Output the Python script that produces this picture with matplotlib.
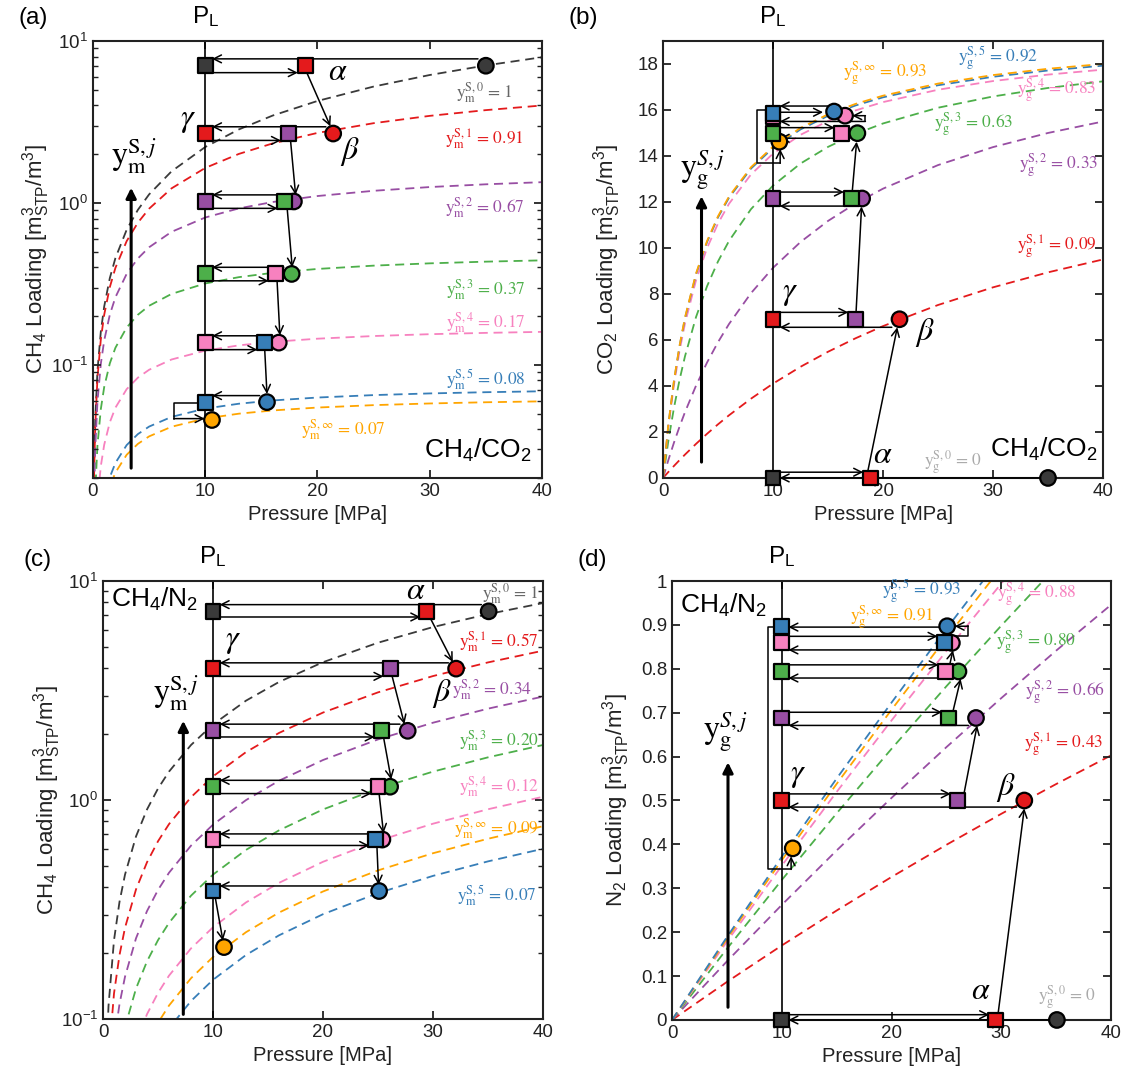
import matplotlib.pyplot as plt
from matplotlib.transforms import blended_transform_factory

plt.rcParams['font.family'] = ['Liberation Sans', 'DejaVu Sans']
plt.rcParams['mathtext.fontset'] = 'custom'
plt.rcParams['mathtext.rm'] = 'Liberation Sans'
plt.rcParams['mathtext.it'] = 'Liberation Sans:italic'
plt.rcParams['mathtext.bf'] = 'Liberation Sans:bold'
plt.rcParams['axes.linewidth'] = 1.5
plt.rcParams['axes.edgecolor'] = '#222222'

DK = '#3a3a3a'
RED = '#E41A1C'
PUR = '#984EA3'
GRN = '#4DAF4A'
PNK = '#F781BF'
BLU = '#377EB8'
ORG = '#FFA500'
GTX = '#666666'
LG = '#aaaaaa'

# ---------------- (a) CH4/CO2 : CH4 loading ----------------
a_P = [0.05, 0.1, 0.2, 0.4, 0.7, 1, 1.5, 2, 3, 4, 5, 7, 10, 13, 16, 20, 25, 30, 35, 40]
a_q0 = [0.0115, 0.0230, 0.0460, 0.0919, 0.1606, 0.2291, 0.3429, 0.4563, 0.6818, 0.9055, 1.128, 1.566, 2.212, 2.842, 3.459, 4.259, 5.227, 6.161, 7.061, 7.931]
a_q1 = [0.01046, 0.0209, 0.0416, 0.0828, 0.1438, 0.2037, 0.3016, 0.3969, 0.5802, 0.7545, 0.9204, 1.229, 1.643, 2.006, 2.328, 2.704, 3.105, 3.446, 3.739, 3.994]
a_q2 = [0.00766, 0.0153, 0.0303, 0.0595, 0.1015, 0.1414, 0.2037, 0.2613, 0.3642, 0.4535, 0.5317, 0.6624, 0.8119, 0.9243, 1.012, 1.102, 1.187, 1.252, 1.302, 1.342]
a_q3 = [0.00423, 0.00837, 0.01647, 0.0319, 0.0533, 0.0729, 0.1020, 0.1274, 0.1698, 0.2037, 0.2314, 0.2739, 0.3178, 0.3477, 0.3695, 0.3907, 0.4095, 0.4231, 0.4334, 0.4414]
a_q4 = [0.00194, 0.00383, 0.00749, 0.01438, 0.02372, 0.03205, 0.04411, 0.05432, 0.07069, 0.08323, 0.09314, 0.1078, 0.1223, 0.1318, 0.1385, 0.1449, 0.1505, 0.1545, 0.1574, 0.1597]
a_q5 = [0.00091, 0.0018, 0.00351, 0.00671, 0.01101, 0.0148, 0.02022, 0.02476, 0.03191, 0.03731, 0.04152, 0.04766, 0.05361, 0.05748, 0.06019, 0.06276, 0.06497, 0.06654, 0.0677, 0.0686]
a_qinf = [0.0008, 0.00157, 0.00307, 0.00586, 0.00962, 0.01292, 0.01764, 0.02159, 0.0278, 0.03247, 0.03612, 0.04142, 0.04656, 0.04989, 0.05222, 0.05443, 0.05633, 0.05768, 0.05868, 0.05945]

a_sq_p = [10, 18.9, 10, 17.4, 10, 17.1, 10, 16.3, 10, 15.3, 10]
a_sq_q = [7.03, 7.03, 2.68, 2.68, 1.02, 1.02, 0.364, 0.364, 0.137, 0.137, 0.0588]
a_sq_c = [DK, RED, RED, PUR, PUR, GRN, GRN, PNK, PNK, BLU, BLU]
a_ci_p = [35, 21.4, 17.9, 17.7, 16.55, 15.5, 10.6]
a_ci_q = [7.03, 2.68, 1.02, 0.364, 0.137, 0.0588, 0.0456]
a_ci_c = [DK, RED, PUR, GRN, PNK, BLU, ORG]
a_arrows = [(34.3, 7.75, 10.6, 7.75), (10.6, 6.37, 18.25, 6.37), (19.05, 6.37, 21.15, 2.97),
            (20.75, 2.95, 10.6, 2.95), (10.6, 2.43, 16.75, 2.43), (17.6, 2.43, 18.05, 1.12),
            (17.2, 1.12, 10.6, 1.12), (10.6, 0.925, 16.45, 0.925), (17.3, 0.925, 17.75, 0.40),
            (17.0, 0.40, 10.6, 0.40), (10.6, 0.33, 15.65, 0.33), (16.4, 0.33, 16.65, 0.152),
            (15.9, 0.151, 10.6, 0.151), (10.6, 0.124, 14.65, 0.124), (15.3, 0.124, 15.5, 0.066),
            (14.85, 0.0645, 10.6, 0.0645)]
a_polys = [([9.4, 7.2, 7.2, 9.95], [0.0582, 0.0582, 0.0465, 0.0465])]
a_labels = [(r'$\mathrm{y_m^{S,0}}$ = 1', 34.9, 4.8, GTX),
            (r'$\mathrm{y_m^{S,1}}$ = 0.91', 34.9, 2.5, RED),
            (r'$\mathrm{y_m^{S,2}}$ = 0.67', 34.9, 0.93, PUR),
            (r'$\mathrm{y_m^{S,3}}$ = 0.37', 35.0, 0.29, GRN),
            (r'$\mathrm{y_m^{S,4}}$ = 0.17', 35.0, 0.182, PNK),
            (r'$\mathrm{y_m^{S,5}}$ = 0.08', 35.0, 0.081, BLU),
            (r'$\mathrm{y_m^{S,\infty}}$ = 0.07', 22.3, 0.0395, ORG)]
a_greek = [(r'$\alpha$', 21.8, 6.4), (r'$\beta$', 22.9, 2.07), (r'$\gamma$', 8.5, 3.24)]

# ---------------- (b) CH4/CO2 : CO2 loading ----------------
b_P = [0, 0.5, 1, 1.5, 2, 3, 4, 5, 6, 8, 10, 12.5, 15, 17.5, 20, 25, 30, 35, 40]
b_q0 = [0] * 19
b_q1 = [0, 0.2662, 0.5243, 0.7744, 1.017, 1.481, 1.919, 2.332, 2.724, 3.447, 4.100, 4.833, 5.486, 6.072, 6.602, 7.519, 8.287, 8.939, 9.500]
b_q2 = [0, 0.8014, 1.5415, 2.2272, 2.8642, 4.0117, 5.0165, 5.9038, 6.693, 8.0356, 9.1352, 10.258, 11.174, 11.935, 12.577, 13.602, 14.384, 14.999, 15.497]
b_q3 = [0, 1.6601, 3.0606, 4.2579, 5.2933, 6.994, 8.3326, 9.4136, 10.305, 11.688, 12.712, 13.670, 14.393, 14.958, 15.412, 16.096, 16.586, 16.956, 17.243]
b_q4 = [0, 2.2702, 4.0653, 5.5205, 6.7238, 8.598, 9.9903, 11.065, 11.921, 13.196, 14.100, 14.919, 15.519, 15.979, 16.341, 16.878, 17.256, 17.536, 17.752]
b_q5 = [0, 2.3685, 4.2252, 5.7197, 6.9485, 8.85, 10.253, 11.331, 12.185, 13.452, 14.347, 15.153, 15.743, 16.194, 16.549, 17.073, 17.442, 17.715, 17.925]
b_qinf = [0, 2.3786, 4.2432, 5.7441, 6.9782, 8.8878, 10.297, 11.379, 12.237, 13.509, 14.408, 15.218, 15.811, 16.263, 16.620, 17.146, 17.516, 17.790, 18.001]

b_sq_p = [10, 18.85, 10, 17.5, 10, 17.1, 10, 16.24, 10, 10]
b_sq_q = [0, 0, 6.9, 6.9, 12.15, 12.15, 14.99, 14.96, 15.72, 15.86]
b_sq_c = [DK, RED, RED, PUR, PUR, GRN, GRN, PNK, PNK, BLU]
b_ci_p = [35, 21.5, 18.1, 17.67, 16.55, 15.55, 10.58]
b_ci_q = [0, 6.9, 12.15, 14.99, 15.75, 15.93, 14.62]
b_ci_c = [DK, RED, PUR, GRN, PNK, BLU, ORG]
b_arrows = [(10.6, 0.25, 18.2, 0.25), (34.3, 0.0, 10.6, 0.0), (18.6, 0.25, 21.3, 6.55),
            (10.6, 7.2, 16.85, 7.2), (20.8, 6.55, 10.6, 6.55), (17.55, 7.2, 18.05, 11.8),
            (10.6, 12.43, 16.45, 12.43), (17.4, 11.82, 10.6, 11.82), (17.2, 12.43, 17.6, 14.62),
            (10.6, 15.23, 15.6, 15.23), (17.0, 14.77, 10.6, 14.77), (10.6, 15.9, 14.55, 15.9),
            (18.4, 15.5, 10.6, 15.5), (15.0, 16.17, 10.6, 16.17)]
b_polys = [([18.4, 18.4, 17.2], [15.5, 15.75, 15.75]),
           ([9.4, 8.52, 8.52, 10.65, 10.65], [16.0, 16.0, 13.68, 13.68, 14.3])]
b_labels = [(r'$\mathrm{y_g^{S,0}}$ = 0', 26.4, 0.68, LG),
            (r'$\mathrm{y_g^{S,1}}$ = 0.09', 35.8, 10.07, RED),
            (r'$\mathrm{y_g^{S,2}}$ = 0.33', 36.0, 13.6, PUR),
            (r'$\mathrm{y_g^{S,3}}$ = 0.63', 28.2, 15.37, GRN),
            (r'$\mathrm{y_g^{S,4}}$ = 0.83', 35.8, 16.87, PNK),
            (r'$\mathrm{y_g^{S,5}}$ = 0.92', 30.5, 18.25, BLU),
            (r'$\mathrm{y_g^{S,\infty}}$ = 0.93', 20.2, 17.6, ORG)]
b_greek = [(r'$\alpha$', 20.0, 1.0), (r'$\beta$', 23.85, 6.33), (r'$\gamma$', 11.55, 8.06)]

# ---------------- (c) CH4/N2 : CH4 loading ----------------
c_P = [0.25, 0.5, 1, 1.5, 2, 3, 4, 5, 6, 8, 10, 13, 16, 20, 25, 30, 35, 40]
c_q0 = [0.0574, 0.1148, 0.2291, 0.3429, 0.4563, 0.6818, 0.9055, 1.128, 1.348, 1.783, 2.212, 2.842, 3.459, 4.259, 5.227, 6.161, 7.061, 7.931]
c_q1 = [0.0328, 0.0655, 0.1308, 0.196, 0.261, 0.3906, 0.5197, 0.6481, 0.776, 1.030, 1.282, 1.655, 2.024, 2.508, 3.101, 3.681, 4.249, 4.806]
c_q2 = [0.01955, 0.0391, 0.0781, 0.1171, 0.156, 0.2336, 0.3111, 0.3884, 0.4654, 0.6189, 0.7715, 0.999, 1.2245, 1.5226, 1.8907, 2.254, 2.6126, 2.9666]
c_q3 = [0.0115, 0.023, 0.04596, 0.06892, 0.09185, 0.1377, 0.1834, 0.2291, 0.2747, 0.3657, 0.4563, 0.5918, 0.7267, 0.9055, 1.1275, 1.3477, 1.5661, 1.7829]
c_q4 = [0.00659, 0.01318, 0.02635, 0.03951, 0.05267, 0.07896, 0.1052, 0.1315, 0.1577, 0.2101, 0.2623, 0.3406, 0.4185, 0.5222, 0.6511, 0.7795, 0.9073, 1.0345]
c_qinf = [0.00482, 0.00963, 0.01925, 0.02888, 0.03847, 0.05769, 0.07689, 0.09607, 0.1152, 0.1535, 0.1919, 0.2491, 0.3062, 0.3822, 0.477, 0.5714, 0.6654, 0.7591]
c_q5 = [0.00379, 0.00757, 0.01513, 0.0227, 0.03027, 0.04536, 0.06047, 0.07557, 0.09065, 0.1208, 0.151, 0.196, 0.241, 0.301, 0.3757, 0.4503, 0.5245, 0.5987]

c_sq_p = [10, 29.45, 10, 26.1, 10, 25.3, 10, 25.0, 10, 24.8, 10]
c_sq_q = [7.27, 7.27, 3.98, 3.98, 2.07, 2.07, 1.15, 1.15, 0.66, 0.66, 0.384]
c_sq_c = [DK, RED, RED, PUR, PUR, GRN, GRN, PNK, PNK, BLU, BLU]
c_ci_p = [35.06, 32.1, 27.7, 26.1, 25.4, 25.1, 11.0]
c_ci_q = [7.27, 3.98, 2.07, 1.15, 0.66, 0.384, 0.213]
c_ci_c = [DK, RED, PUR, GRN, PNK, BLU, ORG]
c_arrows = [(34.4, 7.8, 10.6, 7.8), (10.6, 6.85, 28.85, 6.85), (29.7, 6.85, 31.8, 4.27),
            (31.4, 4.23, 10.6, 4.23), (10.6, 3.67, 25.5, 3.67), (26.3, 3.65, 27.4, 2.22),
            (27.0, 2.22, 10.6, 2.22), (10.6, 1.94, 24.7, 1.94), (25.5, 1.94, 26.2, 1.24),
            (25.4, 1.23, 10.6, 1.23), (10.6, 1.07, 24.4, 1.07), (25.1, 1.07, 25.5, 0.705),
            (24.8, 0.70, 10.6, 0.70), (10.6, 0.62, 24.2, 0.62), (24.9, 0.62, 25.05, 0.41),
            (24.4, 0.405, 10.6, 0.405), (10.2, 0.36, 10.9, 0.228)]
c_polys = []
c_labels = [(r'$\mathrm{y_m^{S,0}}$ = 1', 37.0, 8.8, GTX),
            (r'$\mathrm{y_m^{S,1}}$ = 0.57', 36.0, 5.3, RED),
            (r'$\mathrm{y_m^{S,2}}$ = 0.34', 35.4, 3.2, PUR),
            (r'$\mathrm{y_m^{S,3}}$ = 0.20', 36.0, 1.86, GRN),
            (r'$\mathrm{y_m^{S,4}}$ = 0.12', 36.0, 1.15, PNK),
            (r'$\mathrm{y_m^{S,\infty}}$ = 0.09', 35.8, 0.74, ORG),
            (r'$\mathrm{y_m^{S,5}}$ = 0.07', 35.8, 0.367, BLU)]
c_greek = [(r'$\alpha$', 28.4, 9.0), (r'$\beta$', 30.8, 3.05), (r'$\gamma$', 11.85, 5.3)]

# ---------------- (d) CH4/N2 : N2 loading ----------------
d_P = [0, 5, 10, 15, 20, 25, 30, 35, 40]
d_q0 = [0] * 9
d_q1 = [0, 0.08667, 0.1697, 0.2493, 0.3257, 0.3990, 0.4696, 0.5374, 0.6027]
d_q2 = [0, 0.1335, 0.2621, 0.3862, 0.5059, 0.6215, 0.7332, 0.8413, 0.9457]
d_q3 = [0, 0.1621, 0.3189, 0.4707, 0.6177, 0.7602, 0.8983, 1.0322, 1.1622]
d_q4 = [0, 0.1785, 0.3515, 0.5194, 0.6823, 0.8405, 0.9942, 1.1435, 1.2886]
d_qinf = [0, 0.1846, 0.3638, 0.5378, 0.7067, 0.8709, 1.0304, 1.1856, 1.3365]
d_q5 = [0, 0.1888, 0.372, 0.55, 0.723, 0.8912, 1.0547, 1.2138, 1.3686]

d_sq_p = [10, 29.5, 10, 26.0, 10, 25.2, 10, 24.9, 10, 24.8, 10]
d_sq_q = [0, 0, 0.5, 0.5, 0.688, 0.688, 0.794, 0.794, 0.859, 0.859, 0.897]
d_sq_c = [DK, RED, RED, PUR, PUR, GRN, GRN, PNK, PNK, BLU, BLU]
d_ci_p = [35.07, 32.1, 27.7, 26.1, 25.5, 25.07, 11.0]
d_ci_q = [0, 0.5, 0.688, 0.794, 0.859, 0.897, 0.391]
d_ci_c = [DK, RED, PUR, GRN, PNK, BLU, ORG]
d_arrows = [(10.6, 0.012, 28.9, 0.012), (34.4, 0.0, 10.6, 0.0), (29.7, 0.012, 32.1, 0.482),
            (10.6, 0.515, 25.4, 0.515), (31.4, 0.485, 10.6, 0.485), (26.6, 0.515, 27.8, 0.671),
            (10.6, 0.701, 24.6, 0.701), (27.0, 0.671, 10.6, 0.671), (25.6, 0.703, 26.3, 0.777),
            (10.6, 0.809, 24.3, 0.809), (25.4, 0.779, 10.6, 0.779), (25.3, 0.809, 25.6, 0.842),
            (10.6, 0.874, 24.2, 0.874), (24.9, 0.843, 10.6, 0.843), (24.4, 0.895, 10.6, 0.895)]
d_polys = [([24.2, 27.0, 27.0, 25.75], [0.874, 0.874, 0.897, 0.897]),
           ([9.4, 8.7, 8.7, 10.85, 10.85], [0.895, 0.895, 0.343, 0.343, 0.373])]
d_labels = [(r'$\mathrm{y_g^{S,0}}$ = 0', 36.0, 0.052, LG),
            (r'$\mathrm{y_g^{S,1}}$ = 0.43', 35.7, 0.629, RED),
            (r'$\mathrm{y_g^{S,2}}$ = 0.66', 35.8, 0.748, PUR),
            (r'$\mathrm{y_g^{S,3}}$ = 0.80', 33.2, 0.861, GRN),
            (r'$\mathrm{y_g^{S,4}}$ = 0.88', 33.2, 0.97, PNK),
            (r'$\mathrm{y_g^{S,5}}$ = 0.93', 22.7, 0.977, BLU),
            (r'$\mathrm{y_g^{S,\infty}}$ = 0.91', 20.0, 0.917, ORG)]
d_greek = [(r'$\alpha$', 28.1, 0.067), (r'$\beta$', 30.4, 0.53), (r'$\gamma$', 11.5, 0.557)]

d_yticks = [0, 0.1, 0.2, 0.3, 0.4, 0.5, 0.6, 0.7, 0.8, 0.9, 1]
d_yticklabels = ['0', '0.1', '0.2', '0.3', '0.4', '0.5', '0.6', '0.7', '0.8', '0.9', '1']

fig = plt.figure(figsize=(11.27, 10.86), dpi=100)


def arrow(ax, x0, y0, x1, y1):
    ax.annotate('', xy=(x1, y1), xytext=(x0, y0), zorder=3,
                arrowprops=dict(arrowstyle='->', color='k', lw=1.1,
                                shrinkA=0, shrinkB=0, mutation_scale=14))


def panel(rect, P, curves, sq, ci, arrows, polys, labels, greek,
          mix, mixpos, yj, yjpos, yjarrow, ylabel, log, ylim, tag, tagpos):
    ax = fig.add_axes(rect)
    for q, c in curves:
        ax.plot(P, q, color=c, ls=(0, (5, 3.2)), lw=1.3, zorder=1)
    ax.axvline(10, color='k', lw=1.2, zorder=2)
    for x0, y0, x1, y1 in arrows:
        arrow(ax, x0, y0, x1, y1)
    for xs, ys in polys:
        ax.plot(xs[:-1], ys[:-1], color='k', lw=1.1, zorder=3)
        arrow(ax, xs[-2], ys[-2], xs[-1], ys[-1])
    ax.scatter(ci[0], ci[1], s=125, c=ci[2], marker='o', edgecolors='k',
               linewidths=1.6, zorder=5, clip_on=False)
    ax.scatter(sq[0], sq[1], s=115, c=sq[2], marker='s', edgecolors='k',
               linewidths=1.6, zorder=6, clip_on=False)
    for s, x, y, c in labels:
        ax.text(x, y, s, color=c, fontsize=12.5, ha='center', va='center',
                family='STIXGeneral', math_fontfamily='stix', zorder=4)
    for s, x, y in greek:
        ax.text(x, y, s, fontsize=23, ha='center', va='center',
                math_fontfamily='stix', zorder=4)
    ax.text(mixpos[0], mixpos[1], mix, fontsize=19, ha='center', va='center', zorder=4)
    ax.text(yjpos[0], yjpos[1], yj, fontsize=23, ha='center', va='center',
            math_fontfamily='stix', zorder=4)
    ax.annotate('', xy=(yjarrow[0], yjarrow[2]), xytext=(yjarrow[0], yjarrow[1]),
                arrowprops=dict(arrowstyle='-|>', color='k', lw=2.2,
                                shrinkA=0, shrinkB=0, mutation_scale=15))
    tr = blended_transform_factory(ax.transData, ax.transAxes)
    ax.text(10, 1.055, r'P$_\mathrm{L}$', transform=tr, fontsize=17.5,
            ha='center', va='center')
    if log:
        ax.set_yscale('log')
    ax.set_xlim(0, 40)
    ax.set_ylim(*ylim)
    ax.set_xticks([0, 10, 20, 30, 40])
    ax.tick_params(which='both', direction='in', top=True, right=True,
                   labelsize=13.5, colors='#222222')
    ax.tick_params(which='major', length=6, width=1.3)
    ax.tick_params(which='minor', length=3.5, width=1.0)
    ax.set_xlabel('Pressure [MPa]', fontsize=14.5, color='#222222')
    ax.set_ylabel(ylabel, fontsize=16, color='#222222')
    ax.yaxis.set_label_coords(-0.092, 0.5)
    fig.text(tagpos[0], tagpos[1], tag, fontsize=17.5, ha='center', va='center')
    return ax


ax_a = panel([0.0825, 0.5599, 0.3984, 0.4024], a_P,
             [(a_q0, DK), (a_q1, RED), (a_q2, PUR), (a_q3, GRN), (a_q4, PNK), (a_q5, BLU), (a_qinf, ORG)],
             (a_sq_p, a_sq_q, a_sq_c), (a_ci_p, a_ci_q, a_ci_c), a_arrows, a_polys,
             a_labels, a_greek, 'CH$_4$/CO$_2$', (34.3, 0.0295),
             r'$\mathrm{y}_\mathrm{m}^{\mathrm{S},j}$', (3.7, 1.95), (3.4, 0.023, 1.24),
             r'CH$_4$ Loading [m$^3_\mathrm{STP}$/m$^3$]', True, (0.02, 10), '(a)', (0.0293, 0.9834))

ax_b = panel([0.5883, 0.5599, 0.3904, 0.4024], b_P,
             [(b_q0, LG), (b_q1, RED), (b_q2, PUR), (b_q3, GRN), (b_q4, PNK), (b_q5, BLU), (b_qinf, ORG)],
             (b_sq_p, b_sq_q, b_sq_c), (b_ci_p, b_ci_q, b_ci_c), b_arrows, b_polys,
             b_labels, b_greek, 'CH$_4$/CO$_2$', (34.6, 1.22),
             r'$\mathrm{y}_\mathrm{g}^{S,j}$', (3.6, 13.4), (3.5, 0.69, 12.25),
             r'CO$_2$ Loading [m$^3_\mathrm{STP}$/m$^3$]', False, (0, 19), '(b)', (0.5173, 0.9834))
ax_b.set_yticks([0, 2, 4, 6, 8, 10, 12, 14, 16, 18])

ax_c = panel([0.0914, 0.0617, 0.3904, 0.4033], c_P,
             [(c_q0, DK), (c_q1, RED), (c_q2, PUR), (c_q3, GRN), (c_q4, PNK), (c_qinf, ORG), (c_q5, BLU)],
             (c_sq_p, c_sq_q, c_sq_c), (c_ci_p, c_ci_q, c_ci_c), c_arrows, c_polys,
             c_labels, c_greek, 'CH$_4$/N$_2$', (4.7, 8.2),
             r'$\mathrm{y}_\mathrm{m}^{\mathrm{S},j}$', (6.6, 3.1), (7.3, 0.105, 2.3),
             r'CH$_4$ Loading [m$^3_\mathrm{STP}$/m$^3$]', True, (0.1, 10), '(c)', (0.0337, 0.4843))

ax_d = panel([0.5963, 0.0608, 0.3895, 0.4042], d_P,
             [(d_q0, LG), (d_q1, RED), (d_q2, PUR), (d_q3, GRN), (d_q4, PNK), (d_qinf, ORG), (d_q5, BLU)],
             (d_sq_p, d_sq_q, d_sq_c), (d_ci_p, d_ci_q, d_ci_c), d_arrows, d_polys,
             d_labels, d_greek, 'CH$_4$/N$_2$', (4.7, 0.945),
             r'$\mathrm{y}_\mathrm{g}^{S,j}$', (4.9, 0.655), (5.1, 0.029, 0.587),
             r'N$_2$ Loading [m$^3_\mathrm{STP}$/m$^3$]', False, (0, 1), '(d)', (0.5253, 0.4843))
ax_d.set_yticks(d_yticks)
ax_d.set_yticklabels(d_yticklabels)

fig.savefig('out.png', dpi=100)
